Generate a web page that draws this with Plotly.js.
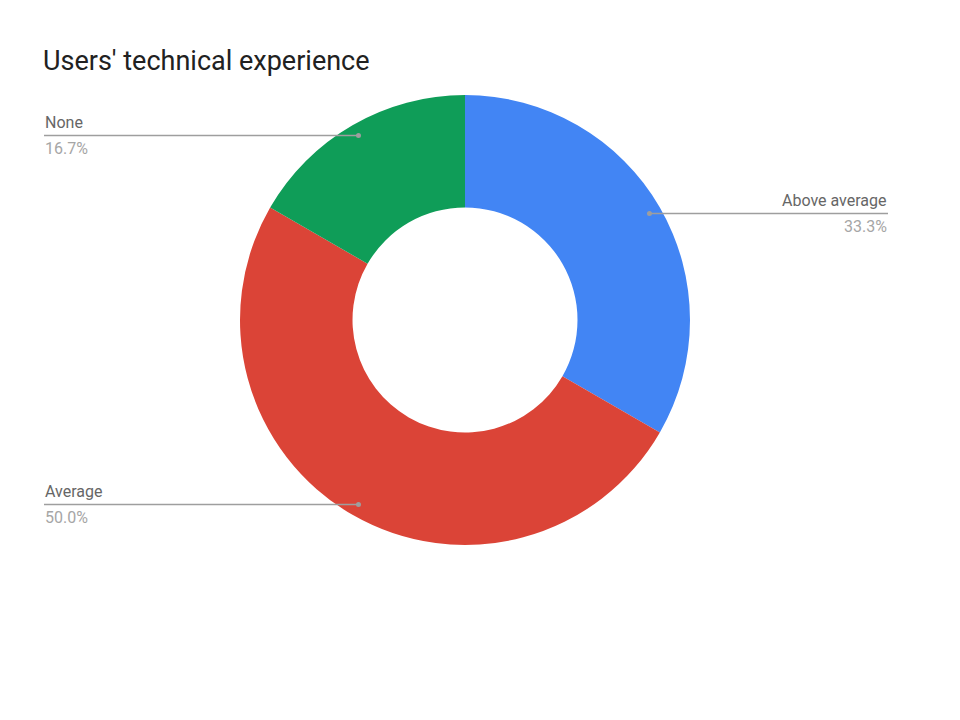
<!DOCTYPE html>
<html>
<head>
<meta charset="utf-8">
<script src="https://cdn.plot.ly/plotly-3.0.1.min.js"></script>
<style>html,body{margin:0;padding:0;background:#fff;}#chart{width:960px;height:720px;}</style>
</head>
<body>
<div id="chart"></div>
<script>
const categories = ["Above average", "Average", "None"];
const counts = [2, 3, 1];
const colors = ["#4285F4", "#DB4437", "#0F9D58"];

const W = 960, H = 720;
const cx = 465, cy = 320, R = 225;
const dotR = 213;
const total = counts.reduce((a, b) => a + b, 0);

const shapes = [];
const annotations = [];
let cum = 0;
counts.forEach((v, i) => {
  const mid = (cum + v / 2) / total * 2 * Math.PI;
  cum += v;
  const px = cx + dotR * Math.sin(mid);
  const py = cy - dotR * Math.cos(mid);
  const right = Math.sin(mid) > 0;
  const endX = right ? 888 : 44;
  const pct = (v / total * 100).toFixed(1) + "%";
  shapes.push({type: "line", xref: "paper", yref: "paper",
    x0: px / W, x1: endX / W, y0: 1 - py / H, y1: 1 - py / H,
    line: {color: "#9e9e9e", width: 1.5}});
  shapes.push({type: "circle", xref: "paper", yref: "paper",
    x0: (px - 2.5) / W, x1: (px + 2.5) / W, y0: 1 - (py - 2.5) / H, y1: 1 - (py + 2.5) / H,
    fillcolor: "#9e9e9e", line: {width: 0}});
  annotations.push({xref: "paper", yref: "paper", x: endX / W, y: 1 - (py - 2.5) / H,
    xanchor: right ? "right" : "left", yanchor: "bottom", showarrow: false,
    text: categories[i], font: {family: "Roboto", size: 16, color: "#666666"}, borderpad: 0});
  annotations.push({xref: "paper", yref: "paper", x: endX / W, y: 1 - (py + 2.5) / H,
    xanchor: right ? "right" : "left", yanchor: "top", showarrow: false,
    text: pct, font: {family: "Roboto", size: 16, color: "#a6a6a6"}, borderpad: 0});
});

const data = [{
  type: "pie",
  labels: categories,
  values: counts,
  hole: 0.5,
  sort: false,
  direction: "clockwise",
  rotation: 0,
  textinfo: "none",
  hoverinfo: "label+percent",
  marker: {colors: colors, line: {width: 0}},
  domain: {x: [(cx - R) / W, (cx + R) / W], y: [1 - (cy + R) / H, 1 - (cy - R) / H]},
  showlegend: false
}];

const layout = {
  width: W, height: H,
  margin: {l: 0, r: 0, t: 0, b: 0},
  paper_bgcolor: "#ffffff",
  title: {text: "Users' technical experience", x: 43 / W, xanchor: "left", xref: "paper",
    y: 1 - 60.5 / H, yanchor: "middle",
    font: {family: "Roboto", size: 27, color: "#212121"}},
  shapes: shapes,
  annotations: annotations,
  showlegend: false
};

Plotly.newPlot("chart", data, layout, {displayModeBar: false, staticPlot: true});
</script>
</body>
</html>
